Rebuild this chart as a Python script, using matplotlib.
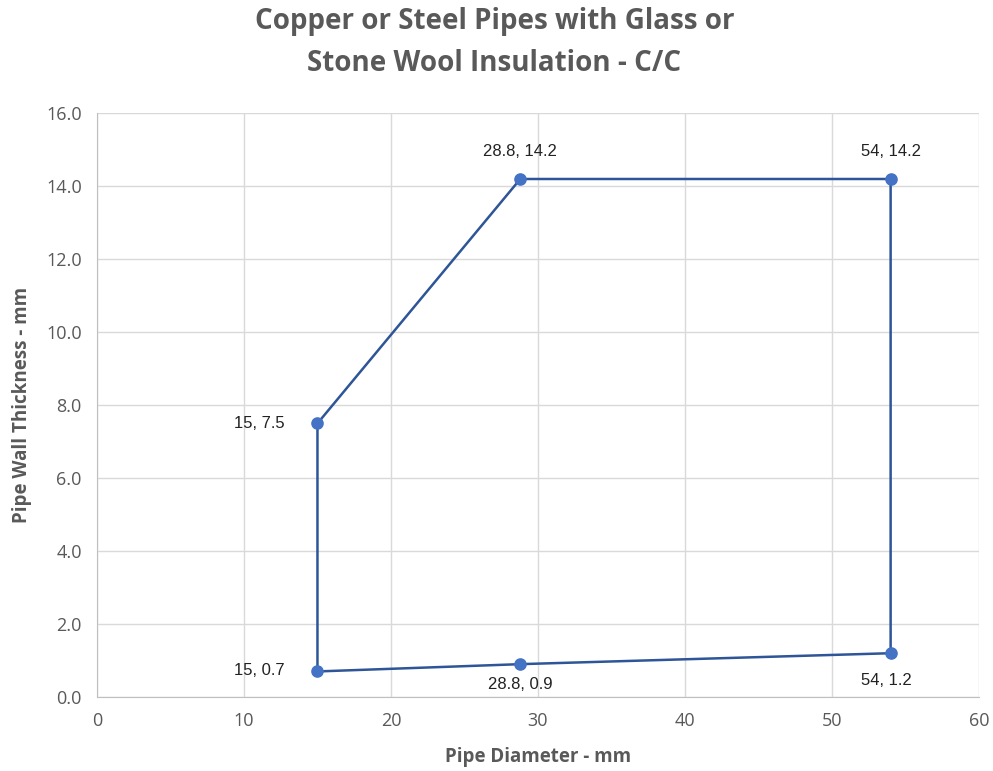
import matplotlib
matplotlib.use('Agg')
import matplotlib.pyplot as plt

# outline of the applicable range
diameter = [15, 28.8, 54, 54, 28.8, 15, 15]
thickness = [0.7, 0.9, 1.2, 14.2, 14.2, 7.5, 0.7]

labels = ['15, 0.7', '28.8, 0.9', '54, 1.2', '54, 14.2', '28.8, 14.2', '15, 7.5']
label_offsets = [(-42, 1), (0, -15), (-3, -20), (0, 20), (0, 20), (-42, 0)]

x_ticks = [0, 10, 20, 30, 40, 50, 60]
y_ticks = [0, 2, 4, 6, 8, 10, 12, 14, 16]

gray = '#595959'
line_col = '#2E5597'
marker_col = '#4472C4'

fig = plt.figure(figsize=(9.93, 7.71), dpi=100)
ax = fig.add_axes([0.0977, 0.096, 0.888, 0.757])

ax.plot(diameter, thickness, color=line_col, lw=1.8, zorder=3)
ax.scatter(diameter[:-1], thickness[:-1], s=65, color=marker_col, zorder=4)

for x, y, lab, off in zip(diameter, thickness, labels, label_offsets):
    ax.annotate(lab, (x, y), xytext=off, textcoords='offset points',
                ha='center', va='center', fontsize=12, color='#222222',
                family='Liberation Sans')

ax.set_xlim(0, 60)
ax.set_ylim(0, 16)
ax.set_xticks(x_ticks)
ax.set_yticks(y_ticks)
ax.set_xticklabels([str(t) for t in x_ticks])
ax.set_yticklabels(['%.1f' % t for t in y_ticks])
ax.tick_params(length=0, labelsize=13, labelcolor=gray, pad=11)
for lab in ax.get_xticklabels() + ax.get_yticklabels():
    lab.set_family('Open Sans')

ax.grid(True, color='#D9D9D9', lw=1)
ax.set_axisbelow(True)
for side in ['top', 'right']:
    ax.spines[side].set_visible(False)
for side in ['left', 'bottom']:
    ax.spines[side].set_color('#BFBFBF')

ax.set_xlabel('Pipe Diameter - mm', fontsize=13.5, fontweight='bold', color=gray,
              family='Open Sans', labelpad=12)
ax.set_ylabel('Pipe Wall Thickness - mm', fontsize=13.5, fontweight='bold', color=gray,
              family='Open Sans', labelpad=10)

fig.text(0.498, 0.945, 'Copper or Steel Pipes with Glass or\nStone Wool Insulation - C/C',
         ha='center', va='center', fontsize=20, fontweight='bold', color=gray,
         family='Open Sans', linespacing=1.6)

fig.savefig('out.png', dpi=100)
